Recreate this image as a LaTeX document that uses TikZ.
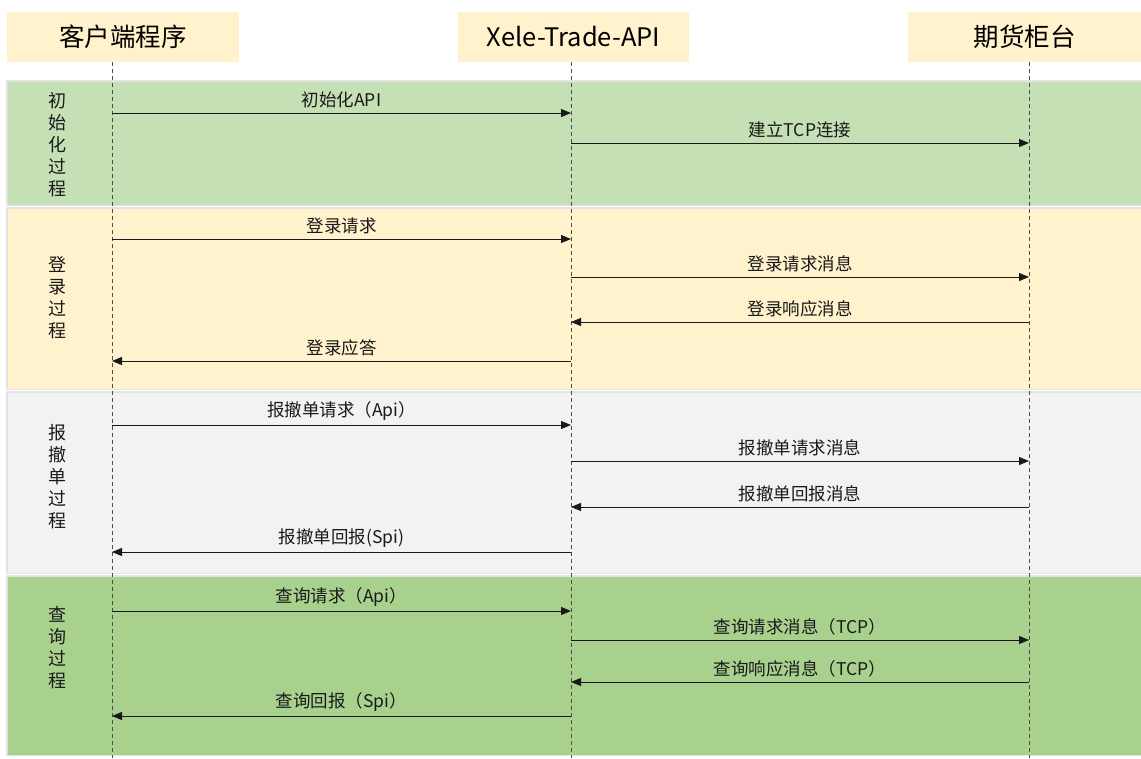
\documentclass[tikz,border=0pt]{standalone}
\usepackage{fontspec}
\setmainfont{Noto Sans CJK SC}
\usetikzlibrary{arrows.meta}
\usetikzlibrary{positioning}
\usetikzlibrary{backgrounds}
\definecolor{hdryellow}{HTML}{FFF2CC}
\definecolor{initgreen}{HTML}{C5E0B4}
\definecolor{loginyellow}{HTML}{FFF2CC}
\definecolor{ordergray}{HTML}{F2F2F2}
\definecolor{querygreen}{HTML}{A9D18E}
\definecolor{bandline}{HTML}{E3E3E3}
\tikzset{header/.style={fill=hdryellow,minimum height=50pt,inner sep=0pt,font=\fontsize{25.5}{29}\selectfont},
band/.style={draw=bandline,line width=1.5pt},
life/.style={draw=black!70,line width=0.8pt,dash pattern=on 4pt off 3pt},
msg/.style={-{Triangle[length=10pt,width=8pt]},line width=1pt,draw=black!90},
msglabel/.style={above=1pt,midway,font=\fontsize{17.5}{20}\selectfont,text=black!90},
phase/.style={align=center,font=\fontsize{18}{22}\selectfont,text=black!90}}

\begin{document}
\begin{tikzpicture}[x=1pt,y=-1pt]
\useasboundingbox (0,0) rectangle (1141,758);
% headers
\node (cli) [header,minimum width=232pt] at (123,36.5) {客户端程序};
\node (api) [header,minimum width=231pt] at (573.5,36.5) {Xele-Trade-API};
\node (fut) [header,minimum width=233pt] at (1024.5,36.5) {期货柜台};

% phase bands
\draw[band,fill=initgreen] (7,81) rectangle (1145,205.5);
\draw[band,fill=loginyellow] (7,208) rectangle (1145,389.5);
\draw[band,fill=ordergray] (7,392) rectangle (1145,573.5);
\draw[band,fill=querygreen] (7,576) rectangle (1145,755.5);

\node (p1) [phase] at (57,145) {初\\始\\化\\过\\程};
\node (p2) [phase] at (57,298) {登\\录\\过\\程};
\node (p3) [phase] at (57,477) {报\\撤\\单\\过\\程};
\node (p4) [phase] at (57,648) {查\\询\\过\\程};

% lifelines
\coordinate (cliT) at (112,62);
\coordinate (apiT) at (571,62);
\coordinate (futT) at (1029,62);
\coordinate (cliB) at (112,758);
\coordinate (apiB) at (571,758);
\coordinate (futB) at (1029,758);
\draw[life] (cliT) -- (cliB);
\draw[life] (apiT) -- (apiB);
\draw[life] (futT) -- (futB);

% message rows
\coordinate (m1) at (0,113);
\coordinate (m2) at (0,143);
\coordinate (m3) at (0,239);
\coordinate (m4) at (0,277);
\coordinate (m5) at (0,322);
\coordinate (m6) at (0,361);
\coordinate (m7) at (0,425);
\coordinate (m8) at (0,461);
\coordinate (m9) at (0,507);
\coordinate (m10) at (0,552);
\coordinate (m11) at (0,611);
\coordinate (m12) at (0,640);
\coordinate (m13) at (0,682);
\coordinate (m14) at (0,716);

\draw[msg] (cliT |- m1) -- node[msglabel] {初始化API} (apiT |- m1);
\draw[msg] (apiT |- m2) -- node[msglabel] {建立TCP连接} (futT |- m2);

\draw[msg] (cliT |- m3) -- node[msglabel] {登录请求} (apiT |- m3);
\draw[msg] (apiT |- m4) -- node[msglabel] {登录请求消息} (futT |- m4);
\draw[msg] (futT |- m5) -- node[msglabel] {登录响应消息} (apiT |- m5);
\draw[msg] (apiT |- m6) -- node[msglabel] {登录应答} (cliT |- m6);

\draw[msg] (cliT |- m7) -- node[msglabel] {报撤单请求（Api）} (apiT |- m7);
\draw[msg] (apiT |- m8) -- node[msglabel] {报撤单请求消息} (futT |- m8);
\draw[msg] (futT |- m9) -- node[msglabel] {报撤单回报消息} (apiT |- m9);
\draw[msg] (apiT |- m10) -- node[msglabel] {报撤单回报(Spi)} (cliT |- m10);

\draw[msg] (cliT |- m11) -- node[msglabel] {查询请求（Api）} (apiT |- m11);
\draw[msg] (apiT |- m12) -- node[msglabel] {查询请求消息（TCP）} (futT |- m12);
\draw[msg] (futT |- m13) -- node[msglabel] {查询响应消息（TCP）} (apiT |- m13);
\draw[msg] (apiT |- m14) -- node[msglabel] {查询回报（Spi）} (cliT |- m14);
\end{tikzpicture}
\end{document}
